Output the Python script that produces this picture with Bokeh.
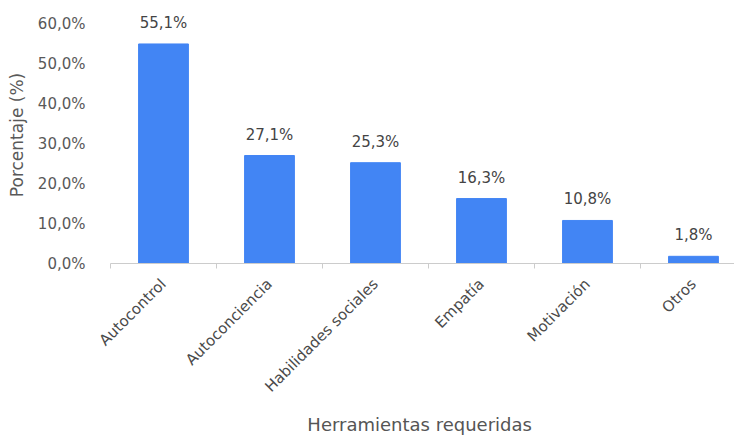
from bokeh.plotting import figure
from bokeh.models import ColumnDataSource, Range1d, FixedTicker, CustomJSTickFormatter
from bokeh.core.properties import value
from bokeh.embed import file_html
from bokeh.resources import INLINE

categories = ["Autocontrol", "Autoconciencia", "Habilidades sociales", "Empatía", "Motivación", "Otros"]
percentages = [55.1, 27.1, 25.3, 16.3, 10.8, 1.8]
y_ticks = [0, 10, 20, 30, 40, 50, 60]

xs = [i + 0.5 for i in range(len(categories))]
labels = [f"{v:.1f}%".replace(".", ",") for v in percentages]
src = ColumnDataSource(dict(x=xs, top=percentages, label=labels))

FONT = "DejaVu Sans"
p = figure(width=734, height=440, output_backend="svg", toolbar_location=None,
           x_range=Range1d(0, 5.887), y_range=Range1d(0, 64.5),
           min_border_left=110, min_border_right=0, min_border_top=6, min_border_bottom=177)
p.outline_line_color = None
p.xgrid.grid_line_color = None
p.ygrid.grid_line_color = None

p.vbar(x="x", top="top", width=0.47, bottom=0, source=src,
       fill_color="#4285F4", line_color="#4285F4")
p.text(x="x", y="top", text="label", source=src, text_align="center",
       text_baseline="bottom", y_offset=-12, text_font=value(FONT),
       text_font_size="15px", text_color="#444444")

# x axis
p.xaxis.ticker = FixedTicker(ticks=xs, minor_ticks=list(range(len(categories) + 1)))
p.xaxis.major_label_overrides = {x: c for x, c in zip(xs, categories)}
p.xaxis.major_label_orientation = 0.785
p.xaxis.major_tick_line_color = None
p.xaxis.minor_tick_line_color = "#cccccc"
p.xaxis.minor_tick_in = 0
p.xaxis.minor_tick_out = 5
p.xaxis.axis_line_color = "#cccccc"
p.xaxis.major_label_text_font = FONT
p.xaxis.major_label_text_font_size = "15px"
p.xaxis.major_label_text_color = "#4a4a4a"
p.xaxis.major_label_standoff = 12
p.xaxis.axis_label = "Herramientas  requeridas"
p.xaxis.axis_label_text_font = FONT
p.xaxis.axis_label_text_font_size = "18px"
p.xaxis.axis_label_text_font_style = "normal"
p.xaxis.axis_label_text_color = "#555555"
p.xaxis.axis_label_standoff = 9

# y axis
p.yaxis.ticker = FixedTicker(ticks=y_ticks)
p.yaxis.formatter = CustomJSTickFormatter(code="return tick.toFixed(1).replace('.', ',') + '%';")
p.yaxis.axis_line_color = None
p.yaxis.major_tick_line_color = None
p.yaxis.minor_tick_line_color = None
p.yaxis.major_label_text_font = FONT
p.yaxis.major_label_text_font_size = "15px"
p.yaxis.major_label_text_color = "#595959"
p.yaxis.major_label_standoff = 19
p.yaxis.axis_label = "Porcentaje (%)"
p.yaxis.axis_label_text_font = FONT
p.yaxis.axis_label_text_font_size = "17px"
p.yaxis.axis_label_text_font_style = "normal"
p.yaxis.axis_label_text_color = "#595959"
p.yaxis.axis_label_standoff = 8

open("out.html", "w").write(file_html(p, INLINE))
